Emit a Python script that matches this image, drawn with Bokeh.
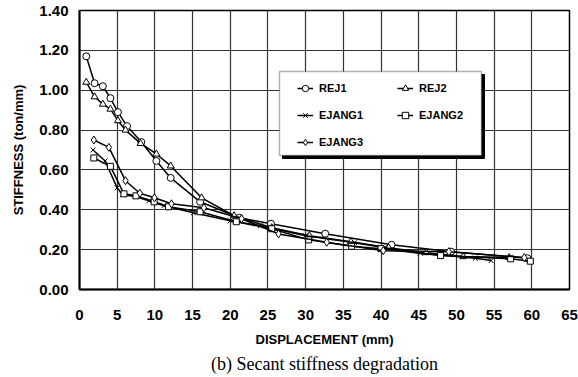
from bokeh.plotting import figure
from bokeh.models import (Range1d, Legend, LegendItem, BoxAnnotation, Title,
                          FixedTicker, NumeralTickFormatter)
from bokeh.embed import file_html
from bokeh.resources import INLINE

# ---- data ----
rej1_x = [0.9, 2.0, 3.1, 4.1, 5.1, 6.3, 8.2, 10.2, 12.1, 16.0, 21.2, 25.4, 32.6, 41.4, 49.3, 59.4]
rej1_y = [1.17, 1.035, 1.02, 0.96, 0.89, 0.82, 0.74, 0.645, 0.56, 0.44, 0.36, 0.33, 0.28, 0.224, 0.19, 0.157]

rej2_x = [0.9, 2.0, 3.1, 4.1, 5.1, 6.1, 8.1, 10.2, 12.1, 16.2, 20.5, 25.5, 30.5, 36.0, 41.0, 46.0, 50.9, 57.0]
rej2_y = [1.04, 0.967, 0.93, 0.905, 0.847, 0.80, 0.733, 0.68, 0.62, 0.46, 0.37, 0.31, 0.27, 0.24, 0.21, 0.185, 0.165, 0.16]

ejang1_x = [1.8, 3.4, 5.0, 5.7, 7.4, 9.2, 11.2, 15.1, 20.0, 24.0, 30.0, 36.5, 40.5, 45.2, 52.5, 54.6]
ejang1_y = [0.70, 0.645, 0.51, 0.476, 0.467, 0.445, 0.42, 0.385, 0.345, 0.32, 0.27, 0.235, 0.21, 0.182, 0.157, 0.145]

ejang2_x = [1.9, 4.1, 5.9, 7.5, 9.9, 11.8, 16.0, 20.8, 25.5, 30.4, 36.1, 40.0, 47.9, 57.2, 59.8]
ejang2_y = [0.66, 0.618, 0.48, 0.47, 0.44, 0.415, 0.39, 0.34, 0.305, 0.249, 0.217, 0.205, 0.17, 0.154, 0.142]

ejang3_x = [1.9, 3.9, 6.1, 8.0, 9.95, 12.2, 16.5, 21.5, 26.4, 32.8, 40.3, 49.0, 59.0]
ejang3_y = [0.75, 0.713, 0.546, 0.483, 0.46, 0.43, 0.41, 0.355, 0.279, 0.237, 0.195, 0.19, 0.16]

series_names = ["REJ1", "REJ2", "EJANG1", "EJANG2", "EJANG3"]
x_ticks = list(range(0, 70, 5))
y_ticks = [0.0, 0.2, 0.4, 0.6, 0.8, 1.0, 1.2, 1.4]

SANS = "Liberation Sans"

p = figure(width=578, height=377, output_backend="svg", toolbar_location=None,
           x_range=Range1d(0, 65), y_range=Range1d(0, 1.4),
           min_border_left=79, min_border_right=9, min_border_top=10, min_border_bottom=88)
p.title.visible = False
p.outline_line_color = "black"
p.outline_line_width = 1.5
p.background_fill_color = "white"
p.border_fill_color = "white"

for ax in (p.xaxis[0], p.yaxis[0]):
    ax.major_tick_out = 0
    ax.major_tick_in = 0
    ax.minor_tick_out = 0
    ax.minor_tick_in = 0
    ax.axis_line_color = "black"
    ax.axis_line_width = 2
    ax.major_label_text_font = SANS
    ax.major_label_text_font_style = "bold"
    ax.major_label_text_font_size = "15px"
    ax.major_label_text_color = "black"
    ax.axis_label_text_font = SANS
    ax.axis_label_text_font_style = "bold"
    ax.axis_label_text_font_size = "13px"
    ax.axis_label_text_color = "black"

p.xaxis.ticker = FixedTicker(ticks=x_ticks)
p.yaxis.ticker = FixedTicker(ticks=y_ticks)
p.yaxis.formatter = NumeralTickFormatter(format="0.00")
p.xaxis.major_label_standoff = 20
p.yaxis.major_label_standoff = 11
p.xaxis.axis_label = "DISPLACEMENT (mm)"
p.yaxis.axis_label = "STIFFNESS (ton/mm)"
p.xaxis.axis_label_standoff = 9
p.yaxis.axis_label_standoff = 10

p.xgrid.ticker = FixedTicker(ticks=x_ticks)
p.ygrid.ticker = FixedTicker(ticks=y_ticks)
for g in (p.xgrid[0], p.ygrid[0]):
    g.grid_line_color = "#333333"
    g.grid_line_width = 1.2
    g.grid_line_alpha = 1.0

markers = ["circle", "triangle", "x", "square", "diamond"]
sizes = [7, 7, 7, 6, 8]
data = [(rej1_x, rej1_y), (rej2_x, rej2_y), (ejang1_x, ejang1_y),
        (ejang2_x, ejang2_y), (ejang3_x, ejang3_y)]

renderers = []
for (xs, ys), m, s in zip(data, markers, sizes):
    ln = p.line(xs, ys, line_color="black", line_width=1.5)
    sc = p.scatter(xs, ys, marker=m, size=s, line_color="black", line_width=1,
                   fill_color="white")
    renderers.append([ln, sc])

# legend box (shadow + white box)
shadow = BoxAnnotation(left=203, right=405, bottom=131, top=215,
                       left_units="screen", right_units="screen",
                       bottom_units="screen", top_units="screen",
                       fill_color="black", fill_alpha=1.0, line_color="black", line_alpha=1.0)
box = BoxAnnotation(left=200, right=402, bottom=134, top=218,
                    left_units="screen", right_units="screen",
                    bottom_units="screen", top_units="screen",
                    fill_color="white", fill_alpha=1.0, line_color="black", line_width=1.5)
p.add_layout(shadow)
p.add_layout(box)

items = [LegendItem(label=series_names[i], renderers=renderers[i]) for i in range(5)]
legend = Legend(items=items, location=(218, 137), orientation="horizontal", ncols=2,
                padding=0, margin=0, spacing=7,
                glyph_width=16, glyph_height=20, label_height=20, label_width=71,
                label_standoff=6,
                label_text_font=SANS, label_text_font_style="bold",
                label_text_font_size="11px", label_text_color="black",
                border_line_alpha=0, background_fill_alpha=0)
p.add_layout(legend, "center")

cap = Title(text="(b) Secant stiffness degradation", align="center",
            text_font="Liberation Serif", text_font_size="18px",
            text_font_style="normal", text_color="black", standoff=4, offset=-7)
p.add_layout(cap, "below")

open("out.html", "w").write(file_html(p, INLINE))
